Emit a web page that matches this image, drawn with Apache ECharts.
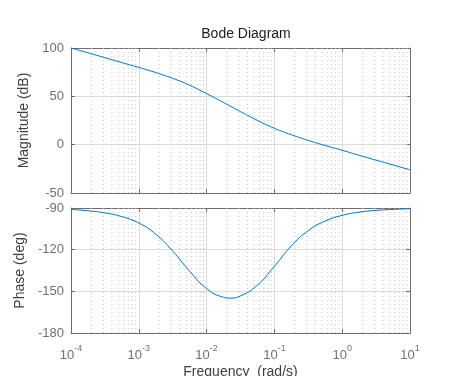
<!DOCTYPE html>
<html>
<head>
<meta charset="utf-8">
<script src="https://cdn.jsdelivr.net/npm/echarts@6/dist/echarts.min.js"></script>
<style>
  html, body { margin: 0; padding: 0; background: #fff; }
  #chart { width: 454px; height: 376px; }
</style>
</head>
<body>
<div id="chart"></div>
<script>
// frequency points (rad/s)
var freq = [1e-4, 1.78e-4, 3.16e-4, 5.62e-4, 1e-3, 1.78e-3, 3.16e-3, 5.62e-3,
            1e-2, 1.78e-2, 2.2e-2, 3.16e-2, 5.62e-2, 0.1, 0.178, 0.316, 0.562,
            1, 1.78, 3.16, 5.62, 10];
var magnitude = [100, 95, 90, 84.9, 79.9, 74.6, 68.6, 61.5,
                 52.8, 43.6, 40.1, 34.2, 25.1, 16.9, 10.3, 4.4, -0.9,
                 -5.8, -11, -16, -21, -26];
var phase = [-91, -92, -93.5, -96.2, -100.8, -108.9, -121, -135.5,
             -148, -154.3, -154.9, -153.3, -145.5, -132, -117.3, -106.3, -99.4,
             -95.3, -93, -91.7, -91, -90.5];
var magTicks = [-50, 0, 50, 100];
var phaseTicks = [-180, -150, -120, -90];
var decades = [1e-4, 1e-3, 1e-2, 1e-1, 1];
var minorSteps = [2, 3, 4, 5, 6, 7, 8, 9];

var font = 'Liberation Sans, Arial, sans-serif';
var axisColor = '#6e6e6e';
var textColor = '#707070';

var minorX = [];
decades.forEach(function (d) {
  minorSteps.forEach(function (m) { minorX.push(d * m); });
});

function pairs(ys) {
  return freq.map(function (f, i) { return [f, ys[i]]; });
}

// dotted vertical grid lines, broken apart with '-'
function minorGrid(lo, hi) {
  var out = [];
  minorX.forEach(function (x) {
    out.push([x, lo], [x, hi], [x, '-']);
  });
  return out;
}

function xAx(grid, pos, labels) {
  return {
    type: 'log', logBase: 10, gridIndex: grid, position: pos,
    min: 1e-4, max: 10,
    axisLine: { show: true, onZero: false, lineStyle: { color: axisColor, width: 1 } },
    axisTick: { show: true, inside: true, length: 4, lineStyle: { color: axisColor } },
    splitLine: { show: pos === 'bottom', lineStyle: { color: '#dcdcdc', width: 1 } },
    axisLabel: {
      show: labels, margin: 8, color: textColor, fontFamily: font,
      formatter: function (v) {
        var e = Math.round(Math.log10(v));
        return '{b|10}{s|' + e + '}';
      },
      rich: {
        b: { fontSize: 13, fontFamily: font, color: textColor, padding: [8, 0, 0, 0] },
        s: { fontSize: 9, fontFamily: font, color: textColor, padding: [0, 0, 6, 0] }
      }
    }
  };
}

function yAx(grid, pos, min, max, step, name) {
  return {
    type: 'value', gridIndex: grid, position: pos,
    min: min, max: max, interval: step,
    name: name, nameLocation: 'middle', nameGap: 34,
    nameTextStyle: { fontSize: 14, fontFamily: font, color: '#404040' },
    axisLine: { show: true, onZero: false, lineStyle: { color: axisColor, width: 1 } },
    axisTick: { show: true, inside: true, length: 4, lineStyle: { color: axisColor } },
    splitLine: { show: pos === 'left', lineStyle: { color: '#dcdcdc', width: 1 } },
    axisLabel: { show: pos === 'left', margin: 7, fontSize: 13, fontFamily: font, color: textColor }
  };
}

var minorStyle = { type: [1, 3], color: '#c4c4c4', width: 1 };

var chart = echarts.init(document.getElementById('chart'));
chart.setOption({
  backgroundColor: '#fff',
  animation: false,
  title: {
    text: 'Bode Diagram', left: 241, top: 22, textAlign: 'center',
    textStyle: { fontSize: 14, fontWeight: 'normal', fontFamily: font, color: '#1a1a1a' }
  },
  grid: [
    { left: 71, right: 44, top: 48, height: 145, outerBoundsMode: 'none' },
    { left: 71, right: 44, top: 208, height: 125, outerBoundsMode: 'none' }
  ],
  xAxis: [
    xAx(0, 'bottom', false),
    xAx(0, 'top', false),
    Object.assign(xAx(1, 'bottom', true), {
      name: 'Frequency  (rad/s)', nameLocation: 'middle', nameGap: 32,
      nameTextStyle: { fontSize: 14, fontFamily: font, color: '#404040' }
    }),
    xAx(1, 'top', false)
  ],
  yAxis: [
    yAx(0, 'left', magTicks[0], magTicks[magTicks.length - 1], 50, 'Magnitude (dB)'),
    yAx(0, 'right', magTicks[0], magTicks[magTicks.length - 1], 50, ''),
    yAx(1, 'left', phaseTicks[0], phaseTicks[phaseTicks.length - 1], 30, 'Phase (deg)'),
    yAx(1, 'right', phaseTicks[0], phaseTicks[phaseTicks.length - 1], 30, '')
  ],
  series: [
    {
      type: 'line', xAxisIndex: 0, yAxisIndex: 0, silent: true, z: 1,
      data: minorGrid(magTicks[0], magTicks[magTicks.length - 1]),
      showSymbol: false, connectNulls: false, lineStyle: minorStyle
    },
    {
      type: 'line', xAxisIndex: 2, yAxisIndex: 2, silent: true, z: 1,
      data: minorGrid(phaseTicks[0], phaseTicks[phaseTicks.length - 1]),
      showSymbol: false, connectNulls: false, lineStyle: minorStyle
    },
    {
      type: 'line', xAxisIndex: 0, yAxisIndex: 0, data: pairs(magnitude), z: 3,
      smooth: true, showSymbol: false,
      lineStyle: { color: '#0072bd', width: 1 }
    },
    {
      type: 'line', xAxisIndex: 2, yAxisIndex: 2, data: pairs(phase), z: 3,
      smooth: true, showSymbol: false,
      lineStyle: { color: '#0072bd', width: 1 }
    }
  ]
});
</script>
</body>
</html>
